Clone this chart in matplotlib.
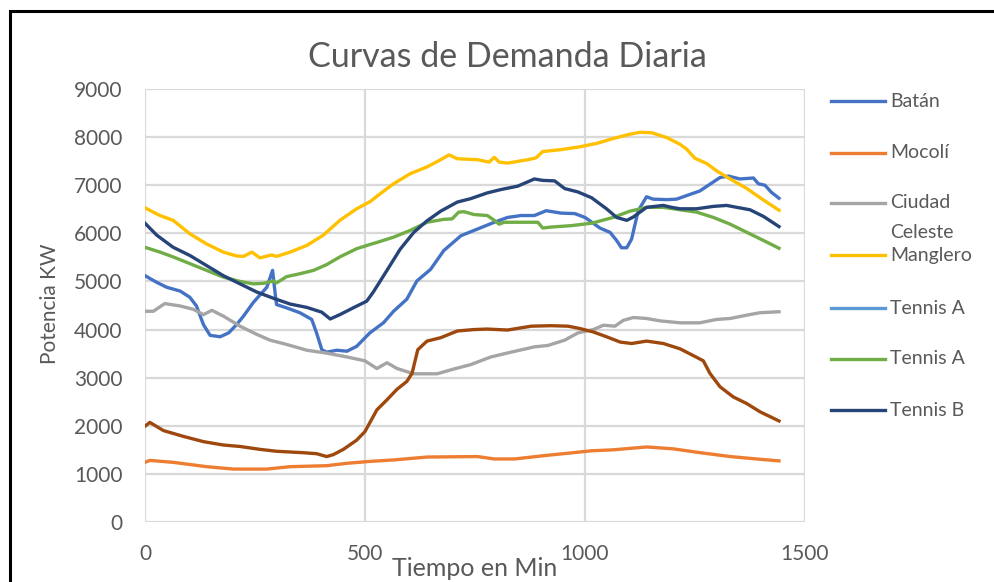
import matplotlib
matplotlib.use("Agg")
import matplotlib.pyplot as plt
from matplotlib.lines import Line2D
from matplotlib.patches import Rectangle

plt.rcParams['font.family'] = ['Lato', 'DejaVu Sans']

# curves (minutes, kW)
t_batan = [0, 27, 49, 80, 102, 117, 133, 148, 171, 190, 208, 224, 246, 277, 290, 296, 299,
           322, 352, 379, 390, 402, 413, 436, 459, 481, 511, 542, 565, 595, 618, 649, 679,
           718, 756, 794, 824, 855, 885, 912, 946, 977, 1000, 1011, 1034, 1057, 1072, 1083,
           1095, 1106, 1121, 1140, 1155, 1186, 1208, 1239, 1261, 1284, 1307, 1326, 1352,
           1383, 1394, 1409, 1424, 1441]
p_batan = [5120, 4980, 4880, 4800, 4670, 4490, 4100, 3880, 3850, 3930, 4100, 4280, 4560,
           4880, 5230, 4740, 4520, 4450, 4350, 4210, 3930, 3580, 3530, 3570, 3550, 3650,
           3930, 4140, 4380, 4630, 5010, 5250, 5640, 5950, 6090, 6230, 6330, 6370, 6370,
           6470, 6420, 6410, 6330, 6260, 6110, 6020, 5850, 5700, 5700, 5880, 6470, 6760,
           6710, 6700, 6710, 6810, 6880, 7020, 7160, 7190, 7130, 7150, 7030, 7000, 6850, 6730]

t_mocoli = [0, 11, 64, 140, 201, 277, 330, 413, 459, 512, 565, 641, 756, 794, 840, 908, 962,
            1015, 1064, 1140, 1201, 1254, 1330, 1390, 1441]
p_mocoli = [1240, 1280, 1240, 1150, 1100, 1100, 1150, 1170, 1220, 1260, 1290, 1350, 1360,
            1310, 1310, 1380, 1430, 1480, 1500, 1560, 1520, 1450, 1360, 1310, 1270]

t_ciudad = [0, 19, 45, 80, 110, 133, 152, 178, 216, 254, 284, 322, 368, 413, 459, 500, 527,
            550, 573, 611, 664, 702, 740, 786, 832, 885, 916, 954, 984, 1019, 1042, 1068,
            1087, 1110, 1140, 1171, 1216, 1261, 1299, 1330, 1368, 1398, 1441]
p_ciudad = [4380, 4380, 4540, 4490, 4420, 4310, 4400, 4280, 4070, 3900, 3780, 3690, 3570,
            3510, 3430, 3350, 3190, 3310, 3190, 3080, 3080, 3180, 3270, 3430, 3530, 3640,
            3670, 3780, 3930, 4000, 4090, 4070, 4190, 4250, 4230, 4180, 4140, 4140, 4210,
            4230, 4300, 4350, 4370]

t_manglero = [0, 34, 64, 102, 140, 178, 208, 224, 243, 261, 288, 299, 330, 368, 405, 443,
              481, 512, 527, 565, 603, 641, 672, 691, 710, 756, 782, 794, 805, 824, 870, 889,
              904, 946, 989, 1027, 1064, 1102, 1125, 1152, 1186, 1216, 1231, 1250, 1277,
              1299, 1330, 1368, 1406, 1441]
p_manglero = [6530, 6370, 6270, 5990, 5780, 5610, 5530, 5520, 5610, 5490, 5550, 5520, 5610,
              5750, 5960, 6270, 6510, 6660, 6770, 7030, 7240, 7380, 7530, 7630, 7550, 7530,
              7480, 7580, 7480, 7460, 7530, 7570, 7700, 7740, 7800, 7870, 7970, 8060, 8100,
              8090, 7990, 7850, 7750, 7560, 7450, 7300, 7130, 6930, 6690, 6480]

t_tennis_a1 = []
p_tennis_a1 = []

t_tennis_a2 = [0, 34, 64, 102, 140, 178, 216, 246, 269, 292, 299, 322, 352, 383, 413, 443,
               481, 512, 527, 565, 603, 641, 679, 698, 713, 725, 748, 778, 794, 805, 816, 893,
               904, 923, 969, 1015, 1064, 1102, 1140, 1178, 1216, 1254, 1292, 1330, 1368,
               1406, 1441]
p_tennis_a2 = [5710, 5610, 5510, 5370, 5230, 5090, 5000, 4950, 4960, 5010, 4970, 5100, 5160,
               5230, 5350, 5510, 5680, 5770, 5810, 5920, 6060, 6230, 6290, 6300, 6440, 6450,
               6390, 6370, 6270, 6190, 6230, 6230, 6110, 6130, 6160, 6210, 6330, 6460, 6540,
               6540, 6490, 6440, 6330, 6190, 6020, 5850, 5690]

t_tennis_b = [0, 27, 64, 102, 140, 178, 216, 254, 292, 330, 368, 402, 421, 443, 473, 504,
              519, 550, 580, 611, 641, 672, 710, 740, 778, 809, 847, 870, 885, 904, 931, 954,
              984, 1015, 1049, 1072, 1095, 1110, 1140, 1178, 1197, 1216, 1254, 1292, 1322,
              1345, 1375, 1406, 1441]
p_tennis_b = [6210, 5960, 5710, 5540, 5330, 5120, 4950, 4780, 4650, 4530, 4460, 4360, 4220,
              4310, 4450, 4590, 4780, 5230, 5670, 6020, 6260, 6460, 6650, 6720, 6840, 6910,
              6980, 7070, 7130, 7100, 7090, 6930, 6860, 6740, 6510, 6330, 6270, 6340, 6540,
              6580, 6540, 6510, 6510, 6560, 6580, 6540, 6490, 6350, 6140]

# eighth series, no entry visible in the legend
t_extra = [0, 11, 42, 87, 133, 178, 216, 261, 299, 360, 390, 413, 428, 451, 481, 500, 527,
           550, 573, 595, 607, 620, 641, 672, 710, 748, 778, 824, 878, 923, 962, 989, 1019,
           1049, 1080, 1106, 1140, 1178, 1216, 1246, 1269, 1284, 1307, 1337, 1368, 1398, 1441]
p_extra = [1990, 2070, 1900, 1780, 1670, 1600, 1570, 1510, 1470, 1440, 1420, 1360, 1400,
           1510, 1700, 1880, 2330, 2540, 2760, 2920, 3090, 3580, 3760, 3830, 3970, 4000, 4010,
           3990, 4070, 4080, 4070, 4020, 3950, 3850, 3740, 3710, 3760, 3710, 3600, 3460, 3350,
           3090, 2810, 2600, 2460, 2290, 2100]

series = [
    ('Batán', t_batan, p_batan, '#4472C4'),
    ('Mocolí', t_mocoli, p_mocoli, '#ED7D31'),
    ('Ciudad\nCeleste', t_ciudad, p_ciudad, '#A5A5A5'),
    ('Manglero', t_manglero, p_manglero, '#FFC000'),
    ('Tennis A', t_tennis_a1, p_tennis_a1, '#5B9BD5'),
    ('Tennis A', t_tennis_a2, p_tennis_a2, '#70AD47'),
    ('Tennis B', t_tennis_b, p_tennis_b, '#264478'),
]

x_ticks = [0, 500, 1000, 1500]
y_ticks = [0, 1000, 2000, 3000, 4000, 5000, 6000, 7000, 8000, 9000]

text_col = '#595959'
grid_col = '#D9D9D9'

fig = plt.figure(figsize=(9.95, 5.82), dpi=100)
ax = fig.add_axes([0.1457, 0.1031, 0.6633, 0.744])

for name, t, p, col in series:
    ax.plot(t, p, color=col, lw=2.4, solid_joinstyle='round', zorder=3)
ax.plot(t_extra, p_extra, color='#9E480E', lw=2.4, solid_joinstyle='round', zorder=3)

ax.set_xlim(0, 1500)
ax.set_ylim(0, 9000)
ax.set_xticks(x_ticks)
ax.set_yticks(y_ticks)
ax.grid(True, color=grid_col, lw=1.6)
ax.set_axisbelow(True)
for s in ax.spines.values():
    s.set_visible(False)
ax.tick_params(length=0, labelsize=15, labelcolor=text_col)
ax.tick_params(axis='y', pad=16)
ax.tick_params(axis='x', pad=16)

fig.text(507 / 995, 1 - 57 / 582, 'Curvas de Demanda Diaria', ha='center', va='center',
         fontsize=24.5, color=text_col)
fig.text(475 / 995, 1 - 569 / 582, 'Tiempo en Min', ha='center', va='center',
         fontsize=18, color=text_col)
fig.text(50 / 995, 1 - 304 / 582, 'Potencia KW', ha='center', va='center',
         rotation=90, fontsize=15, color=text_col)

# legend drawn by hand to keep Excel's wrapped entry
leg_y = [101, 153, 203, 255, 308, 359, 410]
leg_fs = 14
for (name, t, p, col), yy in zip(series, leg_y):
    yf = 1 - yy / 582
    fig.add_artist(Line2D([831 / 995, 885 / 995], [yf, yf], color=col, lw=2.4))
    if '\n' in name:
        first, second = name.split('\n')
        fig.text(890 / 995, yf, first, ha='left', va='center', fontsize=leg_fs, color=text_col)
        fig.text(890 / 995, 1 - 232 / 582, second, ha='left', va='center', fontsize=leg_fs,
                 color=text_col)
    else:
        fig.text(890 / 995, yf, name, ha='left', va='center', fontsize=leg_fs, color=text_col)

# chart frame, cut off on the right and bottom
fig.add_artist(Rectangle((9.5 / 995, -0.1), 1.2, 1 - 11 / 582 + 0.1, transform=fig.transFigure,
                         fill=False, edgecolor='black', lw=2.2))

fig.savefig('out.png', dpi=100)
